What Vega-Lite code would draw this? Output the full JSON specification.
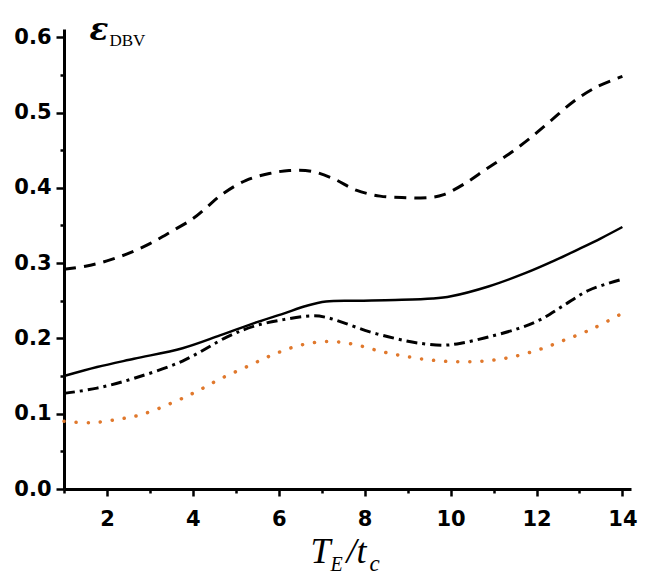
{
  "$schema": "https://vega.github.io/schema/vega-lite/v6.json",
  "width": 567,
  "height": 460,
  "autosize": "none",
  "padding": {"left": 64, "top": 29, "right": 14, "bottom": 87},
  "background": "white",
  "config": {
    "view": {"stroke": null},
    "axis": {"grid": false, "domainColor": "black", "domainWidth": 3, "tickColor": "black", "tickWidth": 2.5,
             "labelFont": "DejaVu Sans", "labelFontWeight": "bold", "labelFontSize": 21, "labelColor": "black",
             "titleColor": "black", "titleAngle": 0, "titleAlign": "left", "titleBaseline": "alphabetic"}
  },
  "datasets": {
    "solid": [
      {"t": 1.0, "eps": 0.150}, {"t": 1.77, "eps": 0.162}, {"t": 2.63, "eps": 0.173}, {"t": 3.76, "eps": 0.187},
      {"t": 4.63, "eps": 0.204}, {"t": 5.41, "eps": 0.220}, {"t": 6.11, "eps": 0.233}, {"t": 6.63, "eps": 0.243},
      {"t": 7.1, "eps": 0.249}, {"t": 7.84, "eps": 0.250}, {"t": 8.71, "eps": 0.251}, {"t": 9.58, "eps": 0.253},
      {"t": 10.01, "eps": 0.256}, {"t": 10.88, "eps": 0.269}, {"t": 11.75, "eps": 0.287}, {"t": 12.44, "eps": 0.304},
      {"t": 12.96, "eps": 0.318}, {"t": 13.5, "eps": 0.333}, {"t": 14.0, "eps": 0.348}
    ],
    "dashed": [
      {"t": 1.0, "eps": 0.292}, {"t": 1.5, "eps": 0.296}, {"t": 2.0, "eps": 0.303}, {"t": 2.5, "eps": 0.313},
      {"t": 3.0, "eps": 0.326}, {"t": 3.5, "eps": 0.342}, {"t": 4.0, "eps": 0.359}, {"t": 4.3, "eps": 0.373},
      {"t": 4.67, "eps": 0.391}, {"t": 5.24, "eps": 0.410}, {"t": 5.78, "eps": 0.419}, {"t": 6.24, "eps": 0.423},
      {"t": 6.76, "eps": 0.422}, {"t": 7.28, "eps": 0.412}, {"t": 7.8, "eps": 0.397}, {"t": 8.36, "eps": 0.389},
      {"t": 8.97, "eps": 0.387}, {"t": 9.5, "eps": 0.387}, {"t": 9.84, "eps": 0.391}, {"t": 10.34, "eps": 0.406},
      {"t": 10.83, "eps": 0.425}, {"t": 11.36, "eps": 0.445}, {"t": 11.85, "eps": 0.466}, {"t": 12.35, "eps": 0.490},
      {"t": 12.87, "eps": 0.515}, {"t": 13.4, "eps": 0.534}, {"t": 14.0, "eps": 0.548}
    ],
    "dashdot": [
      {"t": 1.0, "eps": 0.127}, {"t": 1.77, "eps": 0.134}, {"t": 2.63, "eps": 0.147}, {"t": 3.76, "eps": 0.170},
      {"t": 4.8, "eps": 0.202}, {"t": 5.41, "eps": 0.216}, {"t": 6.11, "eps": 0.225}, {"t": 6.8, "eps": 0.230},
      {"t": 7.1, "eps": 0.228}, {"t": 7.5, "eps": 0.221}, {"t": 8.1, "eps": 0.209}, {"t": 8.71, "eps": 0.200},
      {"t": 9.23, "eps": 0.194}, {"t": 9.84, "eps": 0.191}, {"t": 10.27, "eps": 0.194}, {"t": 10.88, "eps": 0.202},
      {"t": 11.57, "eps": 0.213}, {"t": 12.09, "eps": 0.225}, {"t": 12.61, "eps": 0.243}, {"t": 13.22, "eps": 0.264},
      {"t": 13.96, "eps": 0.278}
    ],
    "dotted": [
      {"t": 1.0, "eps": 0.090}, {"t": 1.6, "eps": 0.088}, {"t": 2.2, "eps": 0.092}, {"t": 2.81, "eps": 0.099},
      {"t": 3.5, "eps": 0.114}, {"t": 4.07, "eps": 0.129}, {"t": 4.63, "eps": 0.146}, {"t": 5.28, "eps": 0.163},
      {"t": 5.89, "eps": 0.179}, {"t": 6.5, "eps": 0.191}, {"t": 7.15, "eps": 0.196}, {"t": 7.76, "eps": 0.192},
      {"t": 8.36, "eps": 0.183}, {"t": 8.97, "eps": 0.176}, {"t": 9.58, "eps": 0.171}, {"t": 10.19, "eps": 0.169},
      {"t": 10.79, "eps": 0.170}, {"t": 11.4, "eps": 0.175}, {"t": 12.05, "eps": 0.185}, {"t": 12.66, "eps": 0.198},
      {"t": 13.31, "eps": 0.213}, {"t": 13.92, "eps": 0.231}
    ]
  },
  "layer": [
    {
      "data": {"name": "solid"},
      "mark": {"type": "line", "interpolate": "catmull-rom", "color": "black", "strokeWidth": 2.5},
      "encoding": {
        "x": {"field": "t", "type": "quantitative",
              "scale": {"domain": [1, 14.2], "nice": false, "zero": false},
              "axis": {"orient": "bottom", "values": [1,2,3,4,5,6,7,8,9,10,11,12,13,14],
                       "labelExpr": "datum.value % 2 == 0 ? datum.label : ''",
                       "tickSize": {"condition": {"test": "datum.value % 2 == 0", "value": 7}, "value": 4},
                       "labelPadding": 12, "labelFlush": false,
                       "title": "T", "titleFont": "Liberation Serif", "titleFontStyle": "italic", "titleFontWeight": "normal",
                       "titleFontSize": 36, "titleX": 246, "titleY": 73}},
        "y": {"field": "eps", "type": "quantitative",
              "scale": {"domain": [0, 0.611], "nice": false, "zero": true},
              "axis": {"orient": "left", "values": [0,0.05,0.1,0.15,0.2,0.25,0.3,0.35,0.4,0.45,0.5,0.55,0.6],
                       "labelExpr": "abs(datum.value*10 - round(datum.value*10)) < 0.001 ? format(datum.value, '.1f') : ''",
                       "tickSize": {"condition": {"test": "abs(datum.value*10 - round(datum.value*10)) < 0.001", "value": 8}, "value": 4},
                       "labelPadding": 5, "labelFlush": false,
                       "title": "ε", "titleFont": "DejaVu Serif", "titleFontStyle": "italic", "titleFontWeight": "bold",
                       "titleFontSize": 31, "titleX": 25, "titleY": 10}}
      }
    },
    {
      "data": {"name": "dashed"},
      "mark": {"type": "line", "interpolate": "catmull-rom", "color": "black", "strokeWidth": 3, "strokeDash": [12, 8]},
      "encoding": {
        "x": {"field": "t", "type": "quantitative", "scale": {"domain": [1, 14.2], "nice": false, "zero": false},
              "axis": {"orient": "bottom", "domain": false, "ticks": false, "labels": false,
                       "title": "E", "titleFont": "Liberation Serif", "titleFontStyle": "italic", "titleFontWeight": "normal",
                       "titleFontSize": 20, "titleX": 266, "titleY": 81}},
        "y": {"field": "eps", "type": "quantitative", "scale": {"domain": [0, 0.611], "nice": false},
              "axis": {"orient": "left", "domain": false, "ticks": false, "labels": false,
                       "title": "DBV", "titleFont": "Liberation Serif", "titleFontStyle": "normal", "titleFontWeight": "normal",
                       "titleFontSize": 17, "titleX": 45, "titleY": 16}}
      }
    },
    {
      "data": {"name": "dashdot"},
      "mark": {"type": "line", "interpolate": "catmull-rom", "color": "black", "strokeWidth": 3, "strokeDash": [11, 5, 3, 5]},
      "encoding": {
        "x": {"field": "t", "type": "quantitative", "scale": {"domain": [1, 14.2], "nice": false, "zero": false},
              "axis": {"orient": "bottom", "domain": false, "ticks": false, "labels": false,
                       "title": "/t", "titleFont": "Liberation Serif", "titleFontStyle": "italic", "titleFontWeight": "normal",
                       "titleFontSize": 36, "titleX": 282, "titleY": 73}},
        "y": {"field": "eps", "type": "quantitative", "scale": {"domain": [0, 0.611], "nice": false}, "axis": null}
      }
    },
    {
      "data": {"name": "dotted"},
      "mark": {"type": "line", "interpolate": "catmull-rom", "color": "#e0782c", "strokeWidth": 3.5, "strokeDash": [0.1, 12], "strokeCap": "round"},
      "encoding": {
        "x": {"field": "t", "type": "quantitative", "scale": {"domain": [1, 14.2], "nice": false, "zero": false},
              "axis": {"orient": "bottom", "domain": false, "ticks": false, "labels": false,
                       "title": "c", "titleFont": "Liberation Serif", "titleFontStyle": "italic", "titleFontWeight": "normal",
                       "titleFontSize": 23, "titleX": 305, "titleY": 81}},
        "y": {"field": "eps", "type": "quantitative", "scale": {"domain": [0, 0.611], "nice": false}, "axis": null}
      }
    }
  ],
  "resolve": {"axis": {"x": "independent", "y": "independent"}}
}
